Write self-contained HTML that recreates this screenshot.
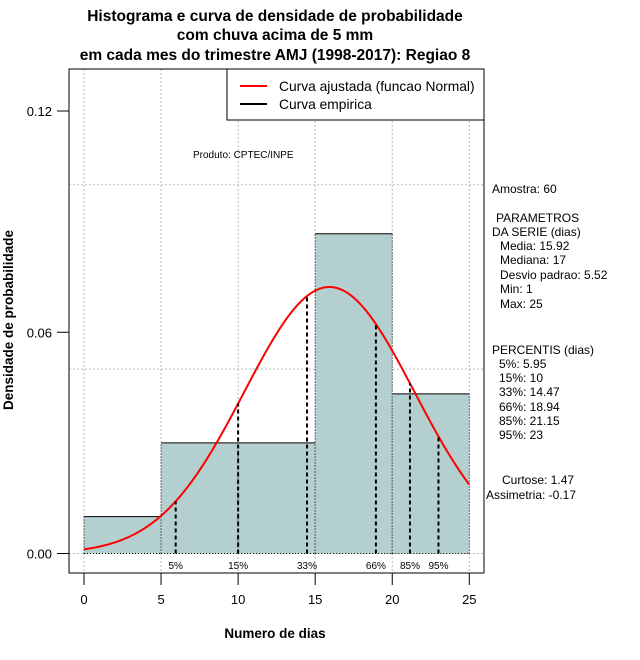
<!DOCTYPE html>
<html><head><meta charset="utf-8"><style>
body{margin:0;background:#fff}
svg{display:block;font-family:"Liberation Sans",sans-serif}
</style></head><body>
<svg id="c" width="640" height="660" viewBox="0 0 640 660">
<g font-weight="bold" font-size="15.5" text-anchor="middle">
<text x="275" y="21">Histograma e curva de densidade de probabilidade</text>
<text x="275" y="40">com chuva acima de 5 mm</text>
<text x="275" y="60">em cada mes do trimestre AMJ (1998-2017): Regiao 8</text>
</g>
<g id="grid"></g>
<g id="bars"></g>
<path id="curve" fill="none" stroke="#f00" stroke-width="2"/>
<g id="pct"></g>
<rect x="69" y="69" width="415" height="504" fill="none" stroke="#000"/>
<g id="axes" font-size="13"></g>
<text x="193" y="158" font-size="10">Produto: CPTEC/INPE</text>
<g>
<rect x="227" y="69" width="257" height="51" fill="#fff" stroke="#000"/>
<line x1="240" y1="86" x2="267" y2="86" stroke="#f00" stroke-width="2"/>
<line x1="240" y1="104" x2="267" y2="104" stroke="#000" stroke-width="2"/>
<text x="279" y="91" font-size="13.8">Curva ajustada (funcao Normal)</text>
<text x="279" y="109" font-size="13.8">Curva empirica</text>
</g>
<text x="275" y="638" font-weight="bold" font-size="13.5" text-anchor="middle">Numero de dias</text>
<text transform="translate(13,320) rotate(-90)" font-weight="bold" font-size="13.5" text-anchor="middle">Densidade de probabilidade</text>
<g font-size="12">
<text x="492" y="193">Amostra: 60</text>
<text x="496" y="222">PARAMETROS</text>
<text x="492" y="236">DA SERIE (dias)</text>
<text x="500" y="250">Media: 15.92</text>
<text x="500" y="264">Mediana: 17</text>
<text x="500" y="279">Desvio padrao: 5.52</text>
<text x="500" y="293">Min: 1</text>
<text x="500" y="308">Max: 25</text>
<text x="492" y="354">PERCENTIS (dias)</text>
<text x="499" y="368">5%: 5.95</text>
<text x="499" y="382">15%: 10</text>
<text x="499" y="396">33%: 14.47</text>
<text x="499" y="411">66%: 18.94</text>
<text x="499" y="425">85%: 21.15</text>
<text x="499" y="439">95%: 23</text>
<text x="502" y="484">Curtose: 1.47</text>
<text x="486" y="499">Assimetria: -0.17</text>
</g>
</svg>
<script>
const binEdges=[0,5,10,15,20,25];
const binDensity=[0.01,0.03,0.03,0.0867,0.0433];
const xTicks=[0,5,10,15,20,25];
const yTicks=[0,0.06,0.12];
const yTickLabels=["0.00","0.06","0.12"];
const yGrid=[0,0.05,0.1];
const meanVal=15.92, sdVal=5.52;
const pctLabels=["5%","15%","33%","66%","85%","95%"];
const pctValues=[5.95,10,14.47,18.94,21.15,23];
const NS="http://www.w3.org/2000/svg";
const X=v=>84+v*(469.3-84)/25;
const Y=v=>553.5-v*(553.5-111)/0.12;
function mk(t,a,p){const e=document.createElementNS(NS,t);for(const k in a)e.setAttribute(k,a[k]);p.appendChild(e);return e;}
const pdf=x=>Math.exp(-0.5*((x-meanVal)/sdVal)**2)/(sdVal*Math.sqrt(2*Math.PI));
const grid=document.getElementById('grid');
xTicks.forEach(v=>{const l=mk('line',{x1:X(v),x2:X(v),y1:69,y2:573,stroke:'#bbb','stroke-dasharray':'2,2'},grid);

});
yGrid.forEach(v=>{const l=mk('line',{x1:69,x2:484,y1:Y(v),y2:Y(v),stroke:'#bbb','stroke-dasharray':'2,2'},grid);

});
const bars=document.getElementById('bars');
binDensity.forEach((d,i)=>{const x0=X(binEdges[i]),x1=X(binEdges[i+1]),y=Y(d),y0=Y(0);
const r=mk('rect',{x:x0,y:y,width:x1-x0,height:y0-y,fill:'#b4cfcf'},bars);


mk('line',{x1:x0,x2:x1,y1:y,y2:y,stroke:'#000'},bars);
mk('path',{d:`M${x0},${y0}V${y}M${x1},${y0}V${y}M${x0},${y0}H${x1}`,stroke:'#000','stroke-dasharray':'1,2',fill:'none'},bars);});
let d='';for(let i=0;i<=250;i++){const v=i/10;d+=(i?'L':'M')+X(v).toFixed(2)+','+Y(pdf(v)).toFixed(2);}
document.getElementById('curve').setAttribute('d',d);
const pct=document.getElementById('pct');
pctValues.forEach((v,i)=>{const l=mk('line',{x1:X(v),x2:X(v),y1:Y(0),y2:Y(pdf(v)),stroke:'#000','stroke-width':2,'stroke-dasharray':'4,3'},pct);


const t=mk('text',{x:X(v),y:569,'font-size':10,'text-anchor':'middle'},pct);t.textContent=pctLabels[i];

});
const ax=document.getElementById('axes');
mk('line',{x1:X(0),x2:X(25),y1:573,y2:573,stroke:'#000'},ax);
xTicks.forEach(v=>{mk('line',{x1:X(v),x2:X(v),y1:573,y2:585,stroke:'#000'},ax);
const t=mk('text',{x:X(v),y:604,'text-anchor':'middle'},ax);t.textContent=v;

});
yTicks.forEach((v,i)=>{mk('line',{x1:57,x2:69,y1:Y(v),y2:Y(v),stroke:'#000'},ax);
const t=mk('text',{x:52,y:Y(v)+5,'text-anchor':'end'},ax);t.textContent=yTickLabels[i];

});
</script>
</body></html>
